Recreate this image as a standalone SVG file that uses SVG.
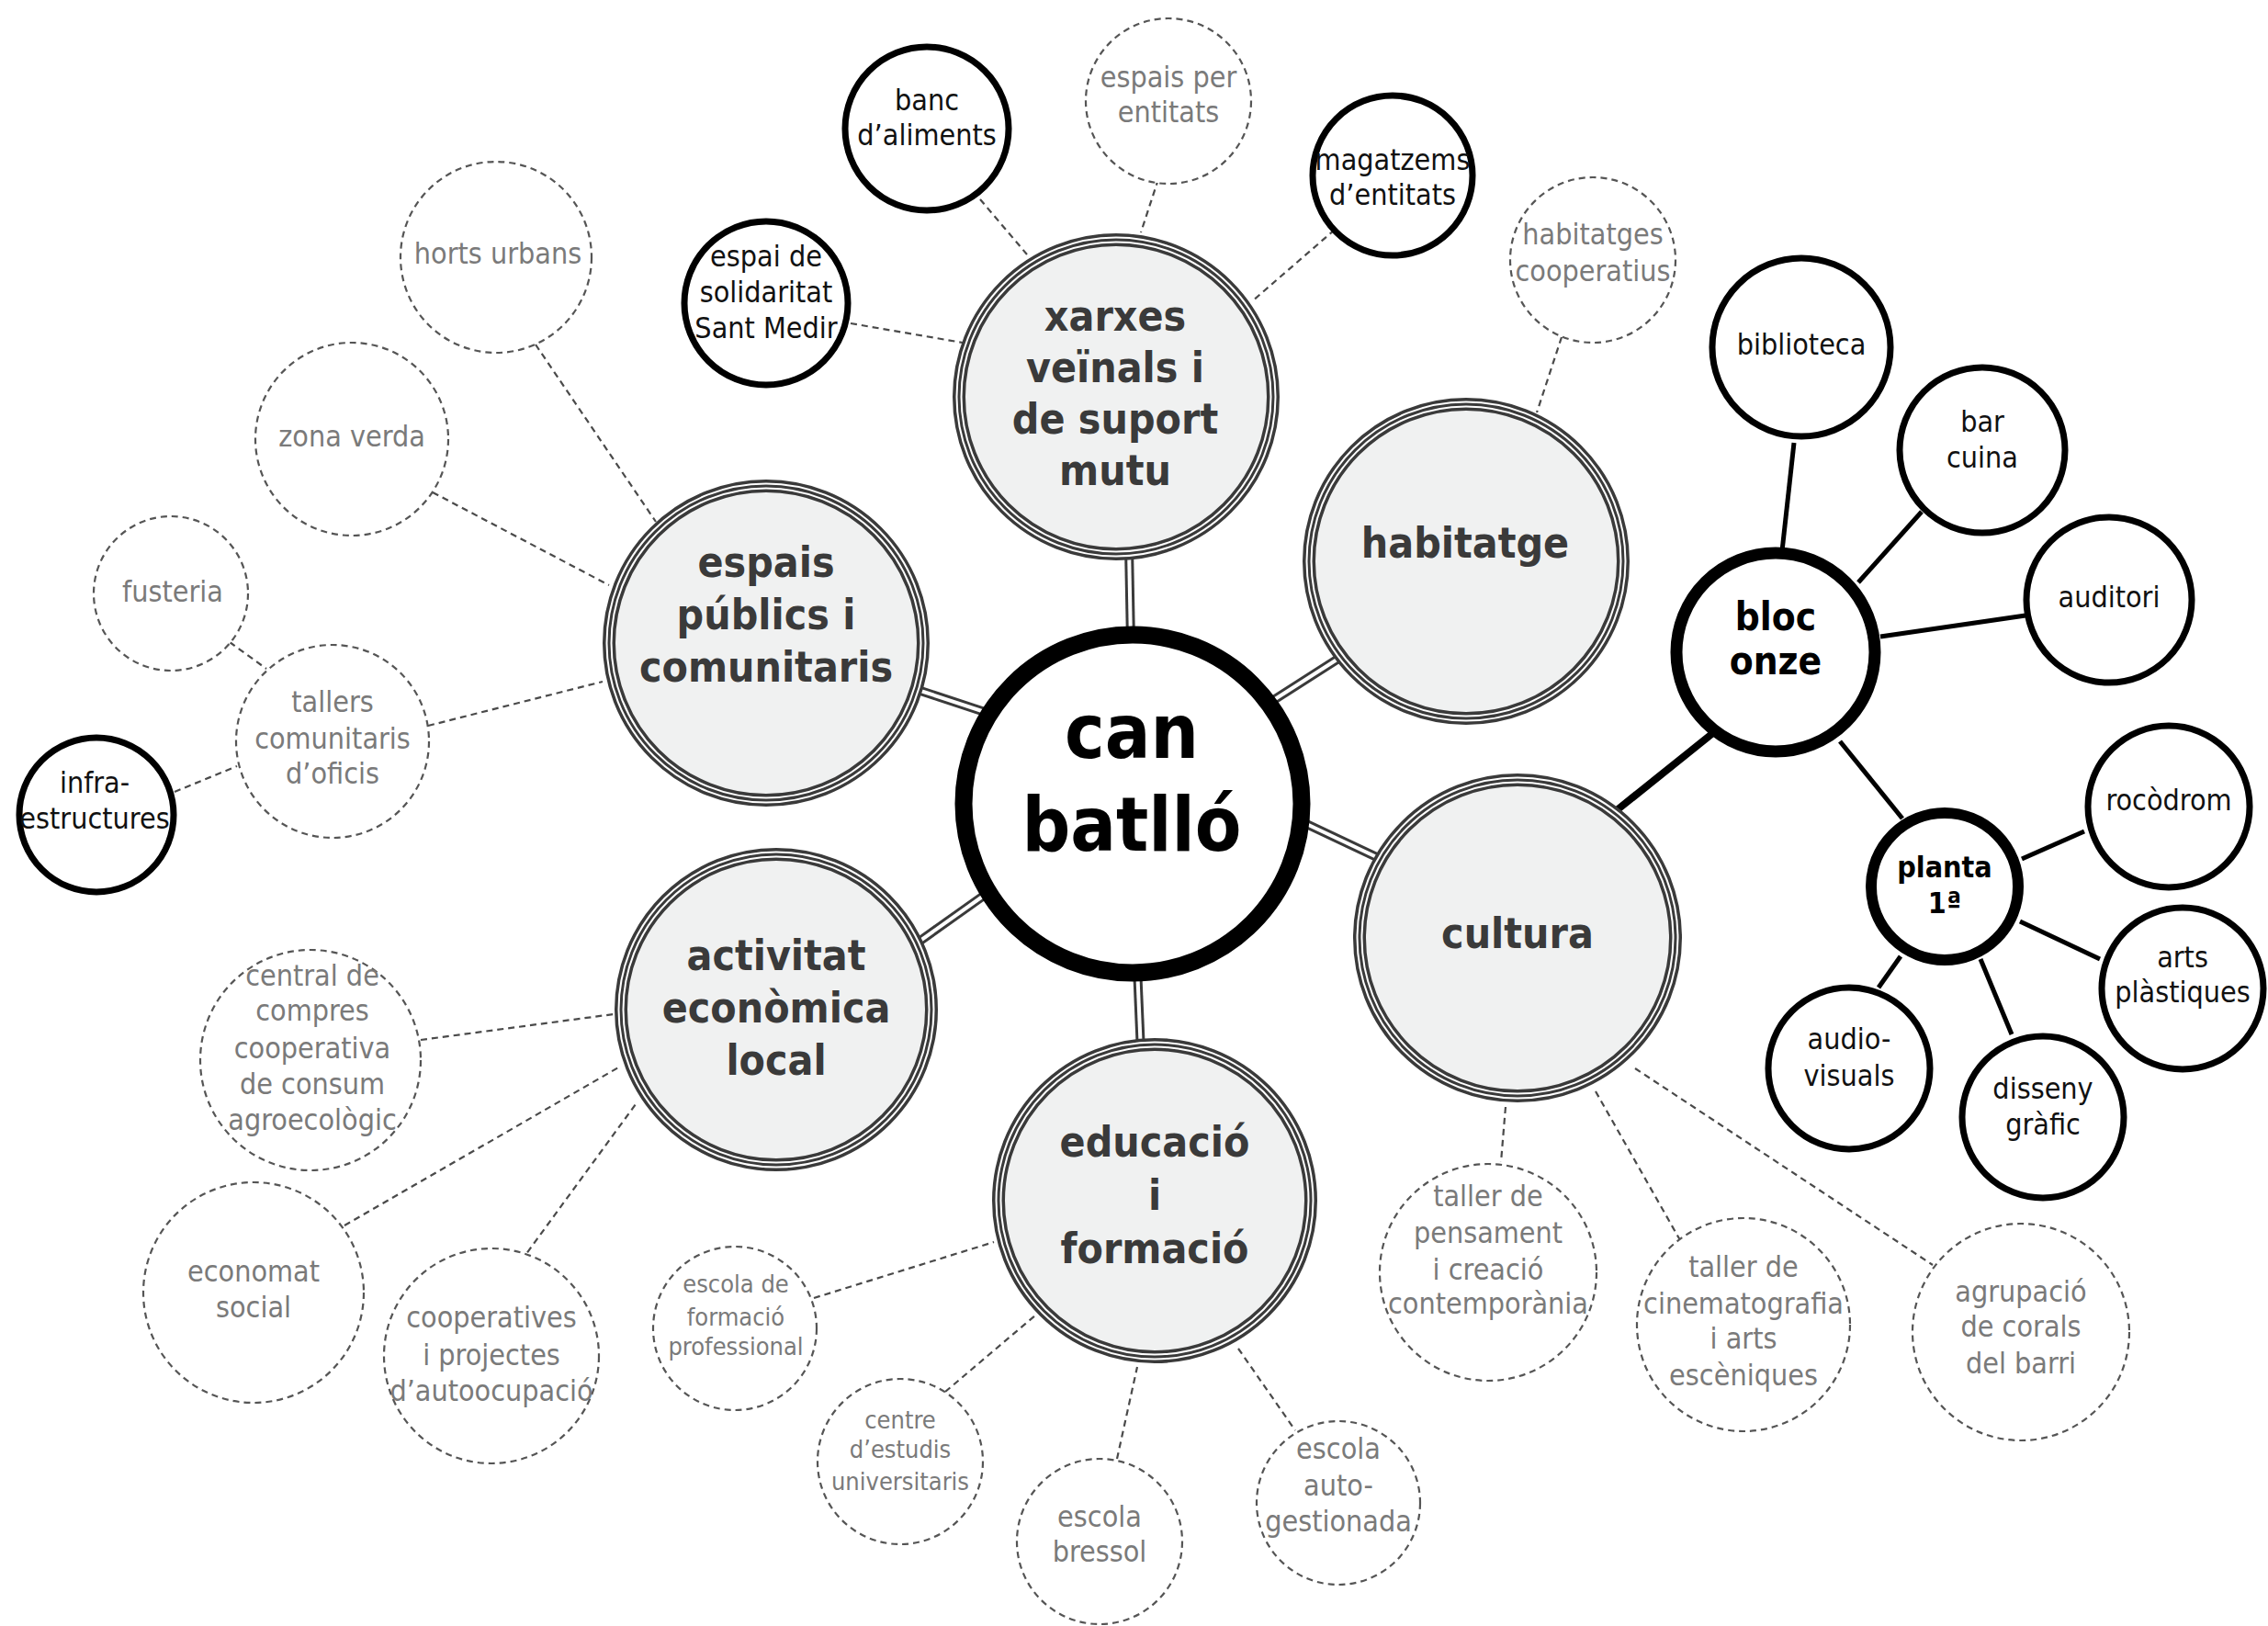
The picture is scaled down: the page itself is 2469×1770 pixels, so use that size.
<svg xmlns="http://www.w3.org/2000/svg" width="2469" height="1770" viewBox="0 0 2469 1770">
<style>
text{font-family:"DejaVu Sans Condensed","DejaVu Sans",sans-serif;font-stretch:condensed;text-anchor:middle}
.mt{font-size:46px;font-weight:bold;fill:#3a3a3a}
.ct{font-size:82px;font-weight:bold;fill:#000}
.bt{font-size:32px;fill:#111}
.bbt{font-size:42px;font-weight:bold;fill:#000}
.pt{font-size:32px;font-weight:bold;fill:#000}
.dt{font-size:32px;fill:#7a7a7a}
.dts{font-size:27px;fill:#7a7a7a}
.r1{fill:#f0f1f1;stroke:#3a3a3a;stroke-width:14}
.r2{fill:none;stroke:#fff;stroke-width:7}
.r3{fill:none;stroke:#3a3a3a;stroke-width:3}
.blk{fill:#fff;stroke:#000;stroke-width:7}
.dsh{fill:#fff;stroke:#555;stroke-width:2.2;stroke-dasharray:7 5}
.dl{stroke:#4a4a4a;stroke-width:2.2;stroke-dasharray:7 5;fill:none}
.sl{stroke:#000;stroke-width:5;fill:none}
.m1{stroke:#3a3a3a;stroke-width:10;fill:none}
.m2{stroke:#fff;stroke-width:4;fill:none}
</style>
<rect width="2469" height="1770" fill="#fff"/>
<g id="connectors">
  <g>
    <line class="m1" x1="1229" y1="595" x2="1231" y2="700"/><line class="m2" x1="1229" y1="595" x2="1231" y2="700"/>
    <line class="m1" x1="990" y1="748" x2="1078" y2="777"/><line class="m2" x1="990" y1="748" x2="1078" y2="777"/>
    <line class="m1" x1="1385" y1="763" x2="1460" y2="715"/><line class="m2" x1="1385" y1="763" x2="1460" y2="715"/>
    <line class="m1" x1="1416" y1="894" x2="1505" y2="936"/><line class="m2" x1="1416" y1="894" x2="1505" y2="936"/>
    <line class="m1" x1="1075" y1="972" x2="999" y2="1026"/><line class="m2" x1="1075" y1="972" x2="999" y2="1026"/>
    <line class="m1" x1="1238" y1="1052" x2="1242" y2="1146"/><line class="m2" x1="1238" y1="1052" x2="1242" y2="1146"/>
  </g>
  <line class="dl" x1="583" y1="375" x2="714" y2="568"/>
  <line class="dl" x1="471" y1="536" x2="663" y2="637"/>
  <line class="dl" x1="466" y1="790" x2="656" y2="742"/>
  <line class="dl" x1="250" y1="699" x2="290" y2="728"/>
  <line class="dl" x1="190" y1="862" x2="258" y2="834"/>
  <line class="dl" x1="1067" y1="217" x2="1118" y2="277"/>
  <line class="dl" x1="1261" y1="195" x2="1242" y2="253"/>
  <line class="dl" x1="1453" y1="250" x2="1363" y2="328"/>
  <line class="dl" x1="926" y1="352" x2="1048" y2="373"/>
  <line class="dl" x1="1700" y1="367" x2="1673" y2="449"/>
  <line class="dl" x1="458" y1="1132" x2="668" y2="1104"/>
  <line class="dl" x1="375" y1="1334" x2="675" y2="1161"/>
  <line class="dl" x1="567" y1="1373" x2="692" y2="1202"/>
  <line class="dl" x1="886" y1="1413" x2="1082" y2="1352"/>
  <line class="dl" x1="1029" y1="1515" x2="1127" y2="1432"/>
  <line class="dl" x1="1216" y1="1588" x2="1238" y2="1488"/>
  <line class="dl" x1="1348" y1="1468" x2="1410" y2="1557"/>
  <line class="dl" x1="1639" y1="1205" x2="1634" y2="1265"/>
  <line class="dl" x1="1737" y1="1188" x2="1829" y2="1350"/>
  <line class="dl" x1="1780" y1="1163" x2="2104" y2="1377"/>
  <line class="sl" x1="1953" y1="482" x2="1940" y2="600"/>
  <line class="sl" x1="2092" y1="557" x2="2023" y2="634"/>
  <line class="sl" x1="2205" y1="670" x2="2047" y2="693"/>
  <line class="sl" x1="2003" y1="807" x2="2071" y2="891"/>
  <line class="sl" x1="2201" y1="935" x2="2269" y2="905"/>
  <line class="sl" x1="2199" y1="1003" x2="2286" y2="1044"/>
  <line class="sl" x1="2156" y1="1044" x2="2190" y2="1126"/>
  <line class="sl" x1="2069" y1="1041" x2="2045" y2="1075"/>
  <line class="sl" style="stroke-width:8" x1="1760" y1="882" x2="1866" y2="797"/>
</g>
<g id="n-center"><circle cx="1233" cy="875" r="184" fill="#fff" stroke="#000" stroke-width="19"/><text class="ct" x="1232" y="825">can</text><text class="ct" x="1232" y="926">batlló</text></g>
<g id="n-xarxes"><circle class="r1" cx="1215" cy="432" r="171"/><circle class="r2" cx="1215" cy="432" r="171"/><circle class="r3" cx="1215" cy="432" r="171"/><text class="mt" x="1214" y="360">xarxes</text><text class="mt" x="1214" y="416">veïnals i</text><text class="mt" x="1214" y="472">de suport</text><text class="mt" x="1214" y="528">mutu</text></g>
<g id="n-espais"><circle class="r1" cx="834" cy="700" r="171"/><circle class="r2" cx="834" cy="700" r="171"/><circle class="r3" cx="834" cy="700" r="171"/><text class="mt" x="834" y="628">espais</text><text class="mt" x="834" y="685">públics i</text><text class="mt" x="834" y="742">comunitaris</text></g>
<g id="n-habitatge"><circle class="r1" cx="1596" cy="611" r="171"/><circle class="r2" cx="1596" cy="611" r="171"/><circle class="r3" cx="1596" cy="611" r="171"/><text class="mt" x="1595" y="607">habitatge</text></g>
<g id="n-activitat"><circle class="r1" cx="845" cy="1099" r="169"/><circle class="r2" cx="845" cy="1099" r="169"/><circle class="r3" cx="845" cy="1099" r="169"/><text class="mt" x="845" y="1056">activitat</text><text class="mt" x="845" y="1113">econòmica</text><text class="mt" x="845" y="1170">local</text></g>
<g id="n-educacio"><circle class="r1" cx="1257" cy="1307" r="170"/><circle class="r2" cx="1257" cy="1307" r="170"/><circle class="r3" cx="1257" cy="1307" r="170"/><text class="mt" x="1257" y="1259">educació</text><text class="mt" x="1257" y="1317">i</text><text class="mt" x="1257" y="1375">formació</text></g>
<g id="n-cultura"><circle class="r1" cx="1652" cy="1021" r="172"/><circle class="r2" cx="1652" cy="1021" r="172"/><circle class="r3" cx="1652" cy="1021" r="172"/><text class="mt" x="1652" y="1032">cultura</text></g>
<g id="n-banc"><circle class="blk" cx="1009" cy="140" r="89"/><text class="bt" x="1009" y="120">banc</text><text class="bt" x="1009" y="158">d’aliments</text></g>
<g id="n-magatzems"><circle class="blk" cx="1516" cy="191" r="87"/><text class="bt" x="1516" y="185">magatzems</text><text class="bt" x="1516" y="223">d’entitats</text></g>
<g id="n-santmedir"><circle class="blk" cx="834" cy="330" r="89"/><text class="bt" x="834" y="290">espai de</text><text class="bt" x="834" y="329">solidaritat</text><text class="bt" x="834" y="368">Sant Medir</text></g>
<g id="n-infra"><circle class="blk" cx="105" cy="887" r="84"/><text class="bt" x="103" y="863">infra-</text><text class="bt" x="103" y="902">estructures</text></g>
<g id="n-espaisper"><circle class="dsh" cx="1272" cy="110" r="90"/><text class="dt" x="1272" y="95">espais per</text><text class="dt" x="1272" y="133">entitats</text></g>
<g id="n-habcoop"><circle class="dsh" cx="1734" cy="283" r="90"/><text class="dt" x="1734" y="266">habitatges</text><text class="dt" x="1734" y="306">cooperatius</text></g>
<g id="n-horts"><circle class="dsh" cx="540" cy="280" r="104"/><text class="dt" x="542" y="287">horts urbans</text></g>
<g id="n-zona"><circle class="dsh" cx="383" cy="478" r="105"/><text class="dt" x="383" y="486">zona verda</text></g>
<g id="n-fusteria"><circle class="dsh" cx="186" cy="646" r="84"/><text class="dt" x="188" y="655">fusteria</text></g>
<g id="n-tallers"><circle class="dsh" cx="362" cy="807" r="105"/><text class="dt" x="362" y="775">tallers</text><text class="dt" x="362" y="815">comunitaris</text><text class="dt" x="362" y="853">d’oficis</text></g>
<g id="n-central"><circle class="dsh" cx="338" cy="1154" r="120"/><text class="dt" x="340" y="1073">central de</text><text class="dt" x="340" y="1111">compres</text><text class="dt" x="340" y="1152">cooperativa</text><text class="dt" x="340" y="1191">de consum</text><text class="dt" x="340" y="1230">agroecològic</text></g>
<g id="n-economat"><circle class="dsh" cx="276" cy="1407" r="120"/><text class="dt" x="276" y="1395">economat</text><text class="dt" x="276" y="1434">social</text></g>
<g id="n-cooperatives"><circle class="dsh" cx="535" cy="1476" r="117"/><text class="dt" x="535" y="1445">cooperatives</text><text class="dt" x="535" y="1486">i projectes</text><text class="dt" x="535" y="1525">d’autoocupació</text></g>
<g id="n-formprof"><circle class="dsh" cx="800" cy="1446" r="89"/><text class="dts" x="801" y="1407">escola de</text><text class="dts" x="801" y="1443">formació</text><text class="dts" x="801" y="1475">professional</text></g>
<g id="n-centre"><circle class="dsh" cx="980" cy="1591" r="90"/><text class="dts" x="980" y="1555">centre</text><text class="dts" x="980" y="1587">d’estudis</text><text class="dts" x="980" y="1622">universitaris</text></g>
<g id="n-bressol"><circle class="dsh" cx="1197" cy="1678" r="90"/><text class="dt" x="1197" y="1662">escola</text><text class="dt" x="1197" y="1700">bressol</text></g>
<g id="n-auto"><circle class="dsh" cx="1457" cy="1636" r="89"/><text class="dt" x="1457" y="1588">escola</text><text class="dt" x="1457" y="1628">auto-</text><text class="dt" x="1457" y="1667">gestionada</text></g>
<g id="n-pensament"><circle class="dsh" cx="1620" cy="1385" r="118"/><text class="dt" x="1620" y="1313">taller de</text><text class="dt" x="1620" y="1353">pensament</text><text class="dt" x="1620" y="1393">i creació</text><text class="dt" x="1620" y="1430">contemporània</text></g>
<g id="n-cinema"><circle class="dsh" cx="1898" cy="1442" r="116"/><text class="dt" x="1898" y="1390">taller de</text><text class="dt" x="1898" y="1430">cinematografia</text><text class="dt" x="1898" y="1468">i arts</text><text class="dt" x="1898" y="1508">escèniques</text></g>
<g id="n-corals"><circle class="dsh" cx="2200" cy="1450" r="118"/><text class="dt" x="2200" y="1417">agrupació</text><text class="dt" x="2200" y="1455">de corals</text><text class="dt" x="2200" y="1495">del barri</text></g>
<g id="n-bloc"><circle cx="1933" cy="710" r="108" fill="#fff" stroke="#000" stroke-width="13"/><text class="bbt" x="1933" y="686">bloc</text><text class="bbt" x="1933" y="734">onze</text></g>
<g id="n-biblioteca"><circle class="blk" cx="1961" cy="378" r="97"/><text class="bt" x="1961" y="386">biblioteca</text></g>
<g id="n-bar"><circle class="blk" cx="2158" cy="490" r="90"/><text class="bt" x="2158" y="470">bar</text><text class="bt" x="2158" y="509">cuina</text></g>
<g id="n-auditori"><circle class="blk" cx="2296" cy="653" r="90"/><text class="bt" x="2296" y="661">auditori</text></g>
<g id="n-planta"><circle cx="2117" cy="965" r="80" fill="#fff" stroke="#000" stroke-width="12"/><text class="pt" x="2117" y="955">planta</text><text class="pt" x="2117" y="994">1ª</text></g>
<g id="n-rocodrom"><circle class="blk" cx="2361" cy="878" r="88"/><text class="bt" x="2361" y="882">rocòdrom</text></g>
<g id="n-arts"><circle class="blk" cx="2376" cy="1076" r="88"/><text class="bt" x="2376" y="1053">arts</text><text class="bt" x="2376" y="1091">plàstiques</text></g>
<g id="n-disseny"><circle class="blk" cx="2224" cy="1216" r="88"/><text class="bt" x="2224" y="1196">disseny</text><text class="bt" x="2224" y="1235">gràfic</text></g>
<g id="n-audio"><circle class="blk" cx="2013" cy="1163" r="88"/><text class="bt" x="2013" y="1142">audio-</text><text class="bt" x="2013" y="1182">visuals</text></g>
</svg>
